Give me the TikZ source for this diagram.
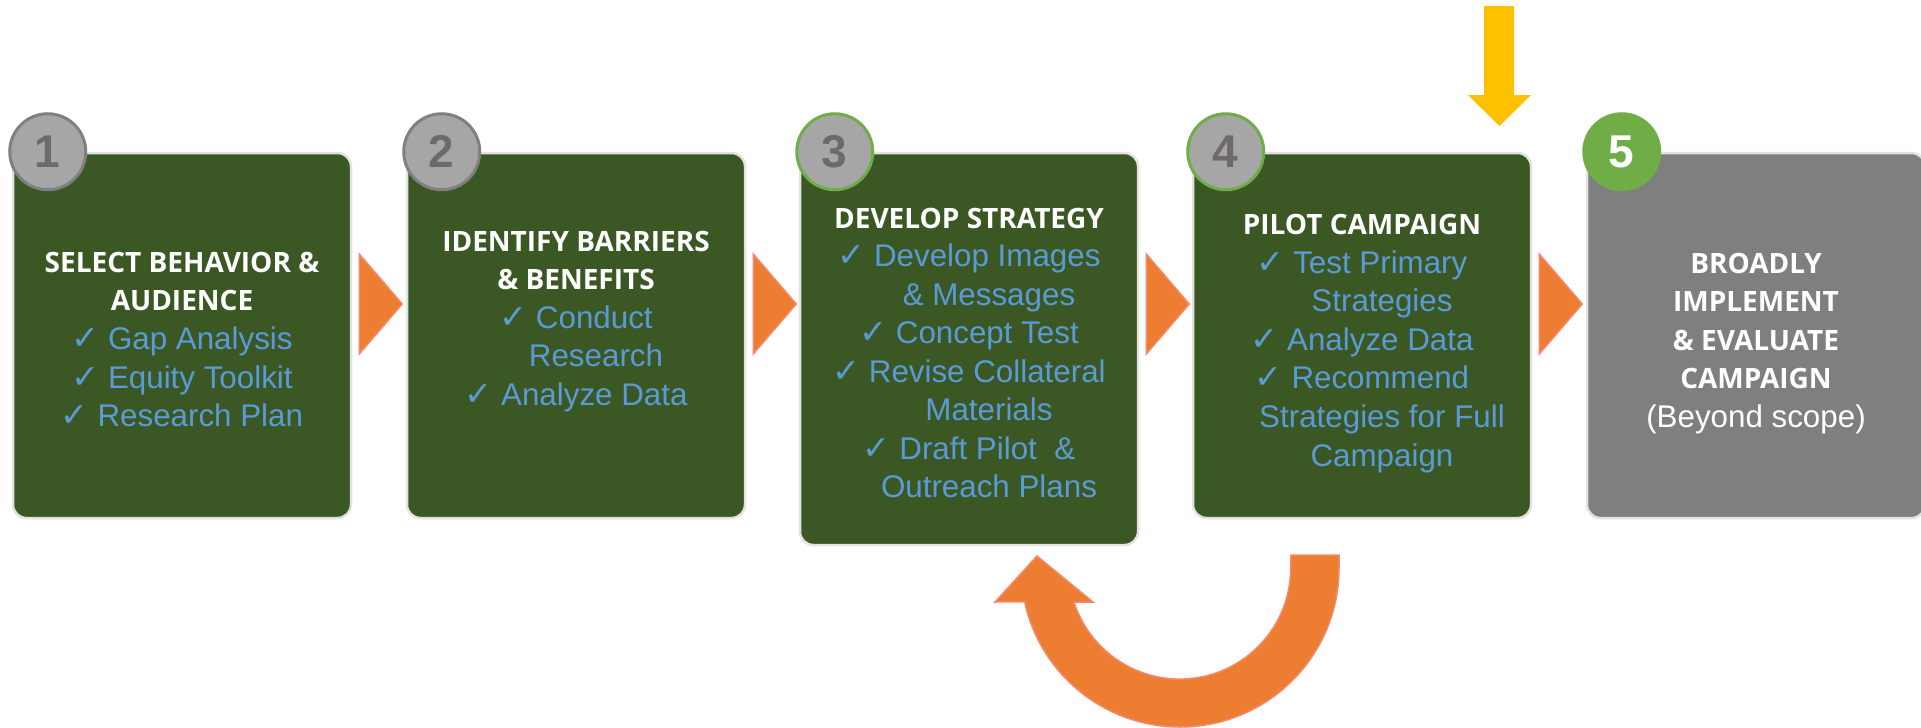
\documentclass[tikz,border=0pt]{standalone}
\usepackage{fontspec}
\setmainfont{Liberation Sans}
\newfontfamily\headfont{Open Sans}
\newfontfamily\symfont{DejaVu Sans}
\usetikzlibrary{calc}

\definecolor{boxgreen}{HTML}{3A5724}
\definecolor{boxedge}{HTML}{E2E2E2}
\definecolor{boxgrey}{HTML}{7F7F7F}
\definecolor{itemblue}{HTML}{5B9BD5}
\definecolor{numfill}{HTML}{A6A6A6}
\definecolor{numedge}{HTML}{808080}
\definecolor{numtext}{HTML}{6E6A6A}
\definecolor{ringgreen}{HTML}{70AD47}
\definecolor{arroworange}{HTML}{ED7D31}
\definecolor{arrowedge}{HTML}{F4896B}
\definecolor{arrowgold}{HTML}{FFC000}

\newdimen\px \px=0.75pt
\newcommand\ck{{\symfont\fontsize{25}{28.9}\selectfont ✓}\ }
\newcommand\cont{\hspace*{30pt}}
\newcommand\hd[1]{{\headfont\bfseries\fontsize{21}{28.9}\selectfont #1}}

\begin{document}
\begin{tikzpicture}[x=0.75pt,y=-0.75pt,
    stepbox/.style={draw=boxedge, line width=2.5\px, rounded corners=10pt,
        fill=boxgreen, minimum width=338\px, minimum height=365\px, inner sep=0pt},
    steptext/.style={align=center, text=itemblue, inner sep=0pt,
        font=\fontsize{23.5}{28.9}\selectfont},
    numcirc/.style={circle, draw=numedge, line width=3\px, fill=numfill,
        minimum size=76\px, inner sep=0pt, text=numtext,
        font=\bfseries\fontsize{34.5}{36}\selectfont},
    chevron/.style={fill=arroworange, draw=arrowedge, line width=1.5\px}]
\useasboundingbox (0,0) rectangle (1921,728);
\coordinate (mid) at (0,304);

% steps
\node[stepbox] (b1) at (182,335.5) {};
\node[stepbox] (b2) at (576,335.5) {};
\node[stepbox, minimum height=392\px] (b3) at (969,349) {};
\node[stepbox] (b4) at (1362,335.5) {};
\node[stepbox, fill=boxgrey] (b5) at (1756,335.5) {};

% arrows between steps
\foreach \a in {b1,b2,b3,b4}
  \draw[chevron] ($(\a.east |- mid)+(7,-50)$) -- ++(43,50) -- ++(-43,50) -- cycle;

% numbers
\node[numcirc] (c1) at ($(b1.north west)+(36,0)$) {1};
\node[numcirc] (c2) at ($(b2.north west)+(36,0)$) {2};
\node[numcirc, draw=ringgreen] (c3) at ($(b3.north west)+(36,0)$) {3};
\node[numcirc, draw=ringgreen] (c4) at ($(b4.north west)+(34,0)$) {4};
\node[numcirc, draw=ringgreen, fill=ringgreen, text=white] (c5) at ($(b5.north west)+(36,0)$) {5};

% texts
\node[steptext] (t1) at ($(b1.center)+(0,4)$) {\hd{\textcolor{white}{SELECT BEHAVIOR \&}}\\
  \hd{\textcolor{white}{AUDIENCE}}\\ \ck Gap Analysis\\ \ck Equity Toolkit\\ \ck Research Plan};
\node[steptext] (t2) at ($(b2.center)+(0,-14)$) {\hd{\textcolor{white}{IDENTIFY BARRIERS}}\\
  \hd{\textcolor{white}{\& BENEFITS}}\\ \ck Conduct\\ \cont Research\\ \ck Analyze Data};
\node[steptext] (t3) at ($(b3.center)+(0,4)$) {\hd{\textcolor{white}{DEVELOP STRATEGY}}\\
  \ck Develop Images\\ \cont\& Messages\\ \ck Concept Test\\ \ck Revise Collateral\\
  \cont Materials\\ \ck Draft Pilot \ \&\\ \cont Outreach Plans};
\node[steptext] (t4) at ($(b4.center)+(0,8)$) {\hd{\textcolor{white}{PILOT CAMPAIGN}}\\
  \ck Test Primary\\ \cont Strategies\\ \ck Analyze Data\\ \ck Recommend\\
  \cont Strategies for Full\\ \cont Campaign};
\node[steptext, text=white] (t5) at ($(b5.center)+(0,8)$) {\hd{BROADLY}\\ \hd{IMPLEMENT}\\
  \hd{\& EVALUATE}\\ \hd{CAMPAIGN}\\ (Beyond scope)};

% loop back from pilot to strategy
\draw[chevron] (1339,555) -- (1339,568) arc[start angle=0, end angle=167.7, radius=159]
  -- (995,602) -- (1037,556) -- (1093,602) -- (1074,602)
  arc[start angle=162.2, end angle=0, radius=111] -- (1291,555) -- cycle;

% input arrow
\fill[arrowgold] (1484,6) -- (1514,6) -- (1514,95) -- (1531,95) -- (1499.5,126)
  -- (1468,95) -- (1484,95) -- cycle;
\end{tikzpicture}
\end{document}
